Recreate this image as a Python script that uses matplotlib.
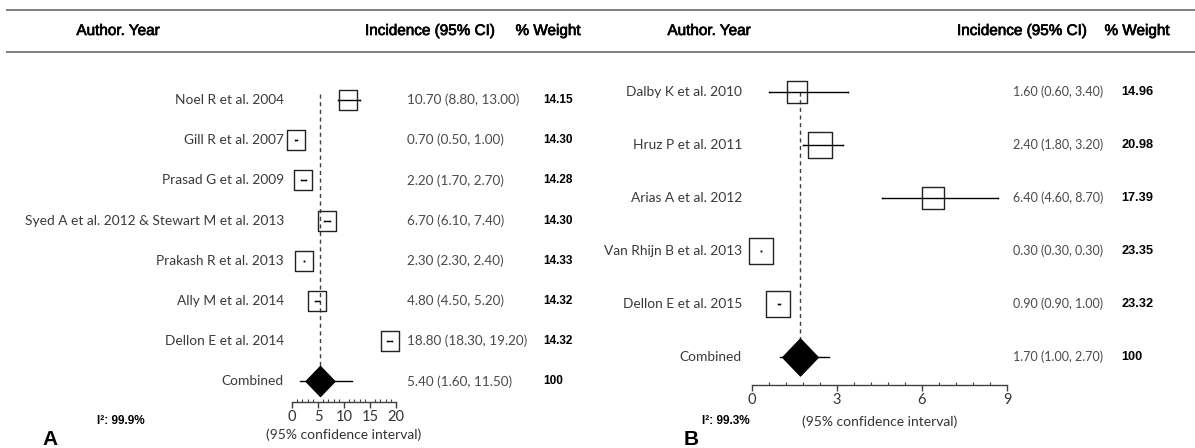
import matplotlib
matplotlib.use("Agg")
import matplotlib.pyplot as plt
import matplotlib.transforms as mtransforms
import matplotlib.patheffects as pe
from matplotlib.path import Path
from matplotlib.lines import Line2D
from matplotlib.ticker import MultipleLocator, AutoMinorLocator

W, H = 1195, 448

# panel A data
studies_a = ["Noel R et al. 2004", "Gill R et al. 2007", "Prasad G et al. 2009",
             "Syed A et al. 2012 & Stewart M et al. 2013", "Prakash R et al. 2013",
             "Ally M et al. 2014", "Dellon E et al. 2014"]
est_a = [10.70, 0.70, 2.20, 6.70, 2.30, 4.80, 18.80]
lo_a = [8.80, 0.50, 1.70, 6.10, 2.30, 4.50, 18.30]
hi_a = [13.00, 1.00, 2.70, 7.40, 2.40, 5.20, 19.20]
wt_a = [14.15, 14.30, 14.28, 14.30, 14.33, 14.32, 14.32]
pooled_a = [5.40, 1.60, 11.50]
i2_a = "I²: 99.9%"

# panel B data
studies_b = ["Dalby K et al. 2010", "Hruz P et al. 2011", "Arias A et al. 2012",
             "Van Rhijn B et al. 2013", "Dellon E et al. 2015"]
est_b = [1.60, 2.40, 6.40, 0.30, 0.90]
lo_b = [0.60, 1.80, 4.60, 0.30, 0.90]
hi_b = [3.40, 3.20, 8.70, 0.30, 1.00]
wt_b = [14.96, 20.98, 17.39, 23.35, 23.32]
pooled_b = [1.70, 1.00, 2.70]
i2_b = "I²: 99.3%"

BODY = ["Lato", "DejaVu Sans"]
HEAD = ["Liberation Sans", "DejaVu Sans"]

fig = plt.figure(figsize=(W / 100, H / 100), dpi=100)
fig.patch.set_facecolor("white")

box = Path([(-0.47, -0.5), (0.47, -0.5), (0.47, 0.5), (-0.47, 0.5), (-0.47, -0.5)],
           [Path.MOVETO, Path.LINETO, Path.LINETO, Path.LINETO, Path.CLOSEPOLY])
diamond = Path([(0, -0.5), (0.48, 0), (0, 0.5), (-0.48, 0), (0, -0.5)],
               [Path.MOVETO, Path.LINETO, Path.LINETO, Path.LINETO, Path.CLOSEPOLY])


def px_axes(x0, x1, y_top, y_bot):
    return fig.add_axes([x0 / W, 1 - y_bot / H, (x1 - x0) / W, (y_bot - y_top) / H])


def panel(ax, names, est, lo, hi, wt, pooled, xmax, major, row0, step, axis_y,
          lab_x, ci_x, wt_x, kbox, dsize, ref_start, ci_fs, wt_fs, xl_pad):
    n = len(names)
    rows = list(range(n + 1))
    top = (70 - row0) / step
    bot = (axis_y - row0) / step
    ax.set_xlim(0, xmax)
    ax.set_ylim(bot, top)
    ax.patch.set_alpha(0)
    for s in ["top", "left", "right"]:
        ax.spines[s].set_visible(False)
    ax.spines["bottom"].set_color("#404040")
    ax.spines["bottom"].set_linewidth(1)
    ax.set_yticks([])
    ax.xaxis.set_major_locator(MultipleLocator(major))
    ax.xaxis.set_minor_locator(AutoMinorLocator(5))
    ax.tick_params(axis="x", which="major", direction="out", length=4, width=1,
                   color="#404040", labelsize=10.5, labelcolor="#333333", pad=2)
    ax.tick_params(axis="x", which="minor", direction="in", length=2.5, width=0.8,
                   color="#404040")
    for t in ax.get_xticklabels():
        t.set_family(BODY)

    # dashed line at the pooled estimate
    ax.vlines(pooled[0], ref_start, n, colors="#404040", linestyles=(0, (3, 2.5)),
              linewidth=1, zorder=1)

    for i in range(n):
        # CI line; tiny end markers keep very narrow intervals visible as a dot
        ax.plot([lo[i], hi[i]], [i, i], color="black", lw=1, zorder=3,
                marker="s", markersize=1.1, markeredgewidth=0,
                solid_capstyle="butt", clip_on=False)
        ax.plot(est[i], i, marker=box, markersize=kbox * wt[i] ** 0.5 / 1.389,
                markerfacecolor="none", markeredgecolor="#222222",
                markeredgewidth=1, zorder=4, clip_on=False)
    ax.plot([pooled[1], pooled[2]], [n, n], color="black", lw=1, zorder=3)
    ax.plot(pooled[0], n, marker=diamond, markersize=dsize / 1.389, color="black",
            zorder=4, clip_on=False)

    tr = mtransforms.blended_transform_factory(fig.transFigure, ax.transData)
    labels = names + ["Combined"]
    cis = ["%.2f (%.2f, %.2f)" % (e, a, b) for e, a, b in zip(est, lo, hi)]
    cis.append("%.2f (%.2f, %.2f)" % tuple(pooled))
    wts = ["%.2f" % w for w in wt] + ["100"]
    for r, lab, ci, w in zip(rows, labels, cis, wts):
        ax.text(lab_x / W, r, lab, transform=tr, ha="right", va="center",
                fontsize=9.9, color="#3a3a3a", family=BODY)
        ax.text(ci_x / W, r, ci, transform=tr, ha="left", va="center",
                fontsize=ci_fs, color="#4a4a4a", family=BODY)
        ax.text(wt_x / W, r, w, transform=tr, ha="left", va="center",
                fontsize=wt_fs, color="black", weight="bold", family=HEAD)
    ax.set_xlabel("(95% confidence interval)", fontsize=10, color="#333333",
                  family=BODY, labelpad=xl_pad)


ax_a = px_axes(292, 396, 70, 402)
panel(ax_a, studies_a, est_a, lo_a, hi_a, wt_a, pooled_a, 20, 5,
      100, 40.2, 402, 284, 407, 543, 5.3, 30, -0.15, 9.7, 8.5, 3)

ax_b = px_axes(752, 1007, 70, 385)
panel(ax_b, studies_b, est_b, lo_b, hi_b, wt_b, pooled_b, 9, 3,
      92, 53.0, 385, 742, 1013, 1121, 5.5, 37, 0.0, 9.0, 9.2, 6)

# header rules and titles
for y in (10, 52):
    fig.add_artist(Line2D([7 / W, 1], [1 - y / H, 1 - y / H], color="#808080",
                          lw=1.4, transform=fig.transFigure))
heads = [("Author. Year", 118), ("Incidence (95% CI)", 430), ("% Weight", 548),
         ("Author. Year", 709), ("Incidence (95% CI)", 1022), ("% Weight", 1137)]
for txt, x in heads:
    fig.text(x / W, 1 - 31 / H, txt, ha="center", va="center", fontsize=11,
             color="black", family=HEAD,
             path_effects=[pe.withStroke(linewidth=0.5, foreground="black")])

fig.text(97 / W, 1 - 421 / H, i2_a, ha="left", va="center", fontsize=8.5,
         weight="bold", family=HEAD)
fig.text(702 / W, 1 - 421 / H, i2_b, ha="left", va="center", fontsize=8.5,
         weight="bold", family=HEAD)
fig.text(42 / W, 1 - 439 / H, "A", ha="left", va="center", fontsize=15,
         weight="bold", family=HEAD)
fig.text(684 / W, 1 - 439 / H, "B", ha="left", va="center", fontsize=15,
         weight="bold", family=HEAD)

fig.savefig("out.png", dpi=100)
